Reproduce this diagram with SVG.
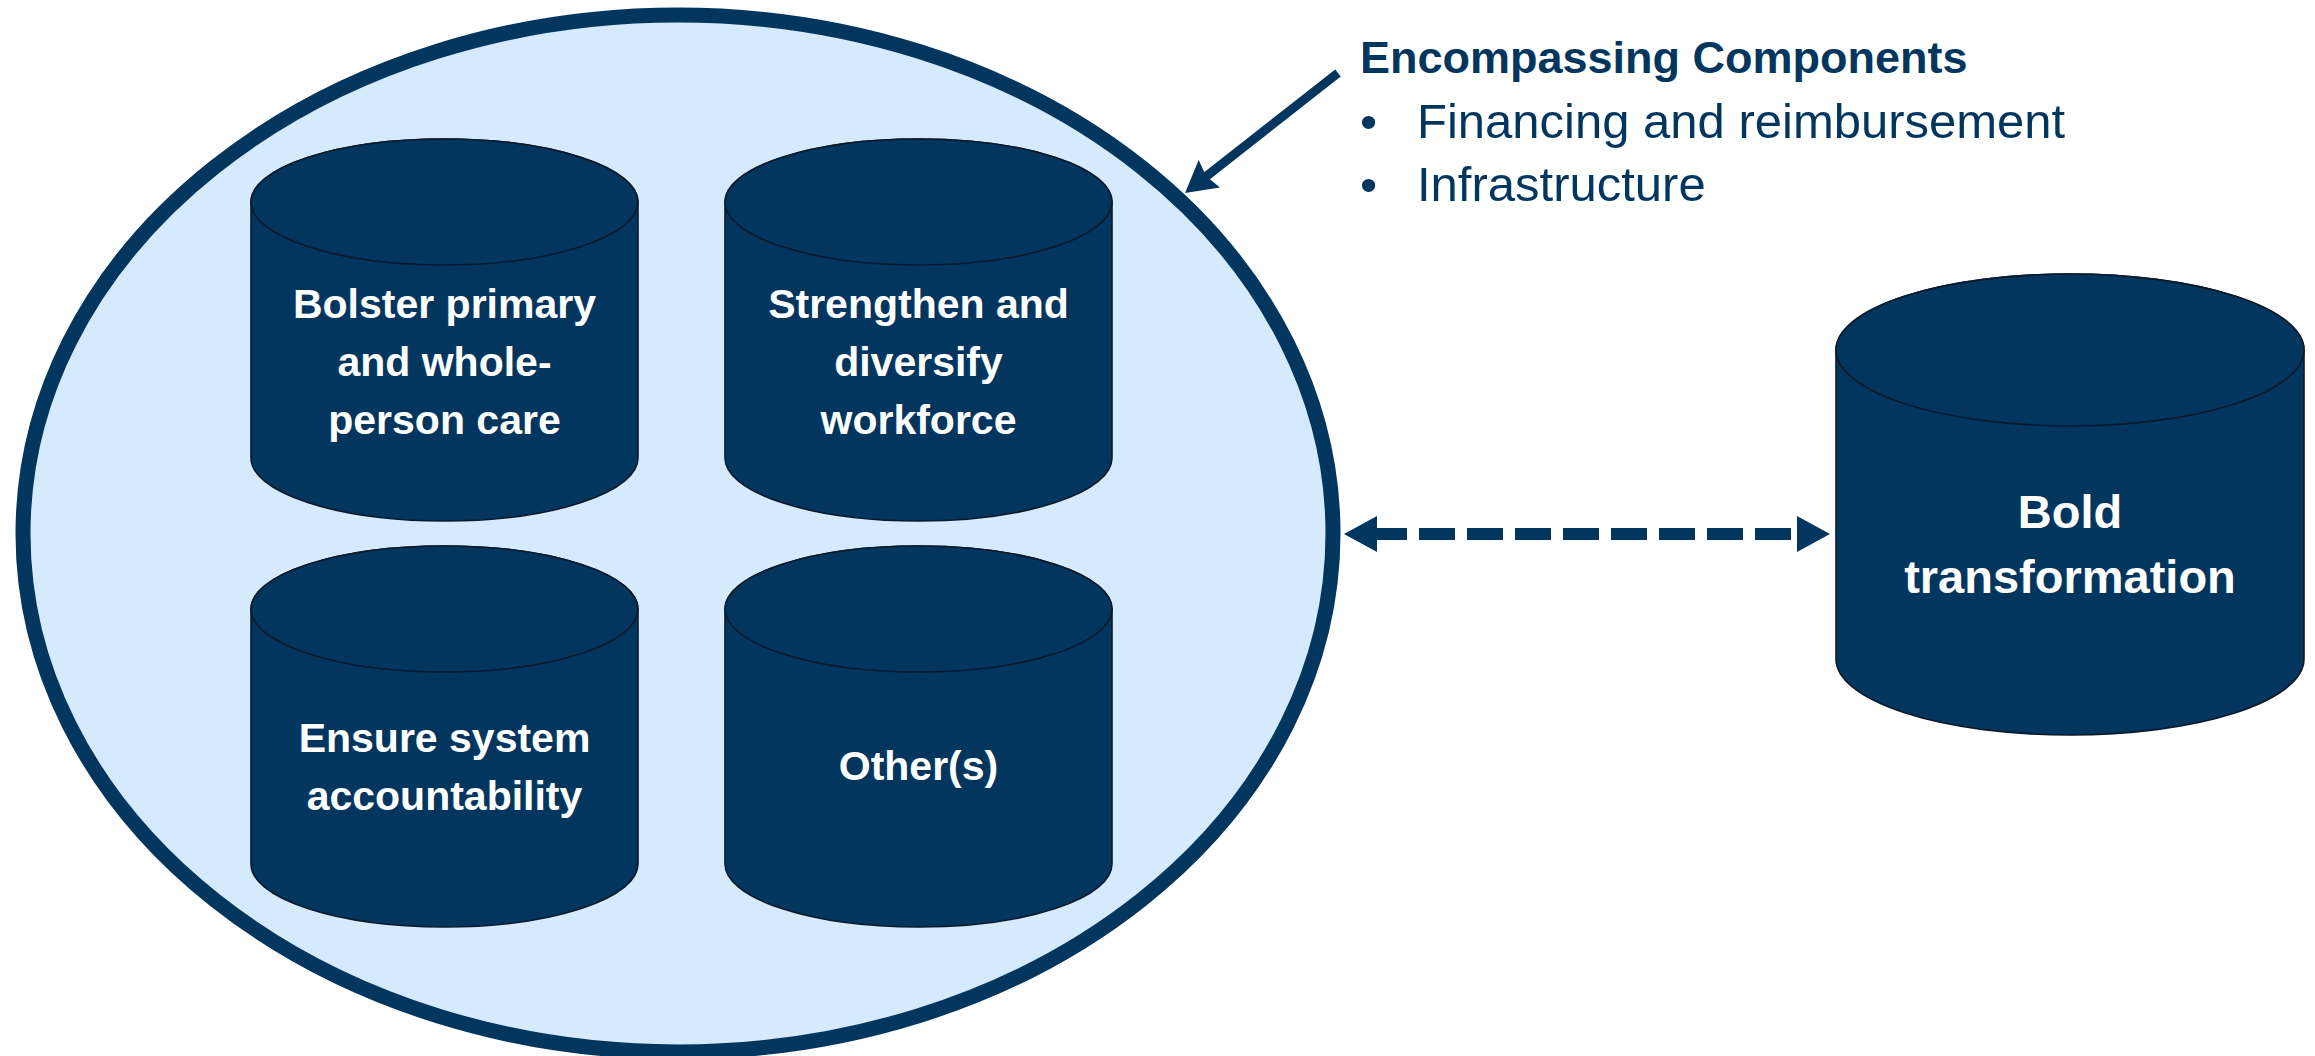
<svg xmlns="http://www.w3.org/2000/svg" width="2315" height="1056" viewBox="0 0 2315 1056">
<defs>
<style>
.cyl{fill:#02365F;stroke:#0B1A2B;stroke-width:1.6}
.lbl{font-family:"Liberation Sans",Arial,sans-serif;font-weight:bold;fill:#FFFFFF;text-anchor:middle;font-size:41px}
.big{font-size:47px}
.hdr{font-family:"Liberation Sans",Arial,sans-serif;fill:#02365F}
.conn{stroke:#02365F;fill:none}
</style>
<marker id="tri" markerUnits="userSpaceOnUse" viewBox="0 0 33 36" markerWidth="33" markerHeight="36" refX="6" refY="18" orient="auto-start-reverse"><path d="M0,0 L33,18 L0,36 Z" fill="#02365F"/></marker>
<marker id="stealth" markerUnits="userSpaceOnUse" viewBox="0 0 31 35" markerWidth="31" markerHeight="35" refX="11" refY="17.5" orient="auto"><path d="M0,0 L31,17.5 L0,35 L4,17.5 Z" fill="#02365F"/></marker>
</defs>
<rect width="2315" height="1056" fill="#FFFFFF"/>
<g id="container">
<ellipse cx="678" cy="533.5" rx="655" ry="518.5" fill="#D5EAFC" stroke="#02365F" stroke-width="15"/>
</g>
<g id="node-bolster">
<path class="cyl" d="M251,202 L251,458 A193.5,63 0 0 0 638,458 L638,202 A193.5,63 0 0 0 251,202 Z"/>
<ellipse class="cyl" cx="444.5" cy="202" rx="193.5" ry="63"/>
<text class="lbl"><tspan x="444.5" y="318">Bolster primary</tspan><tspan x="444.5" y="376">and whole-</tspan><tspan x="444.5" y="434">person care</tspan></text>
</g>
<g id="node-workforce">
<path class="cyl" d="M725,202 L725,458 A193.5,63 0 0 0 1112,458 L1112,202 A193.5,63 0 0 0 725,202 Z"/>
<ellipse class="cyl" cx="918.5" cy="202" rx="193.5" ry="63"/>
<text class="lbl"><tspan x="918.5" y="318">Strengthen and</tspan><tspan x="918.5" y="376">diversify</tspan><tspan x="918.5" y="434">workforce</tspan></text>
</g>
<g id="node-accountability">
<path class="cyl" d="M251,609 L251,864 A193.5,63 0 0 0 638,864 L638,609 A193.5,63 0 0 0 251,609 Z"/>
<ellipse class="cyl" cx="444.5" cy="609" rx="193.5" ry="63"/>
<text class="lbl"><tspan x="444.5" y="752">Ensure system</tspan><tspan x="444.5" y="810">accountability</tspan></text>
</g>
<g id="node-others">
<path class="cyl" d="M725,609 L725,864 A193.5,63 0 0 0 1112,864 L1112,609 A193.5,63 0 0 0 725,609 Z"/>
<ellipse class="cyl" cx="918.5" cy="609" rx="193.5" ry="63"/>
<text class="lbl" x="918.5" y="780">Other(s)</text>
</g>
<g id="node-bold">
<path class="cyl" d="M1836,350 L1836,659 A234,76 0 0 0 2304,659 L2304,350 A234,76 0 0 0 1836,350 Z"/>
<ellipse class="cyl" cx="2070" cy="350" rx="234" ry="76"/>
<text class="lbl big"><tspan x="2070" y="528">Bold</tspan><tspan x="2070" y="593">transformation</tspan></text>
</g>
<g id="node-encompassing">
<text class="hdr" x="1360" y="73" font-size="45" font-weight="bold">Encompassing Components</text>
<text class="hdr" font-size="49"><tspan x="1360" y="138">•</tspan><tspan x="1417" y="138">Financing and reimbursement</tspan></text>
<text class="hdr" font-size="49"><tspan x="1360" y="201">•</tspan><tspan x="1417" y="201">Infrastructure</tspan></text>
</g>
<g id="connectors">
<line class="conn" x1="1338" y1="73" x2="1200.8" y2="180.6" stroke-width="9" marker-end="url(#stealth)"/>
<line class="conn" x1="1371" y1="534" x2="1803" y2="534" stroke-width="12" stroke-dasharray="36 12" marker-start="url(#tri)" marker-end="url(#tri)"/>
</g>
</svg>
